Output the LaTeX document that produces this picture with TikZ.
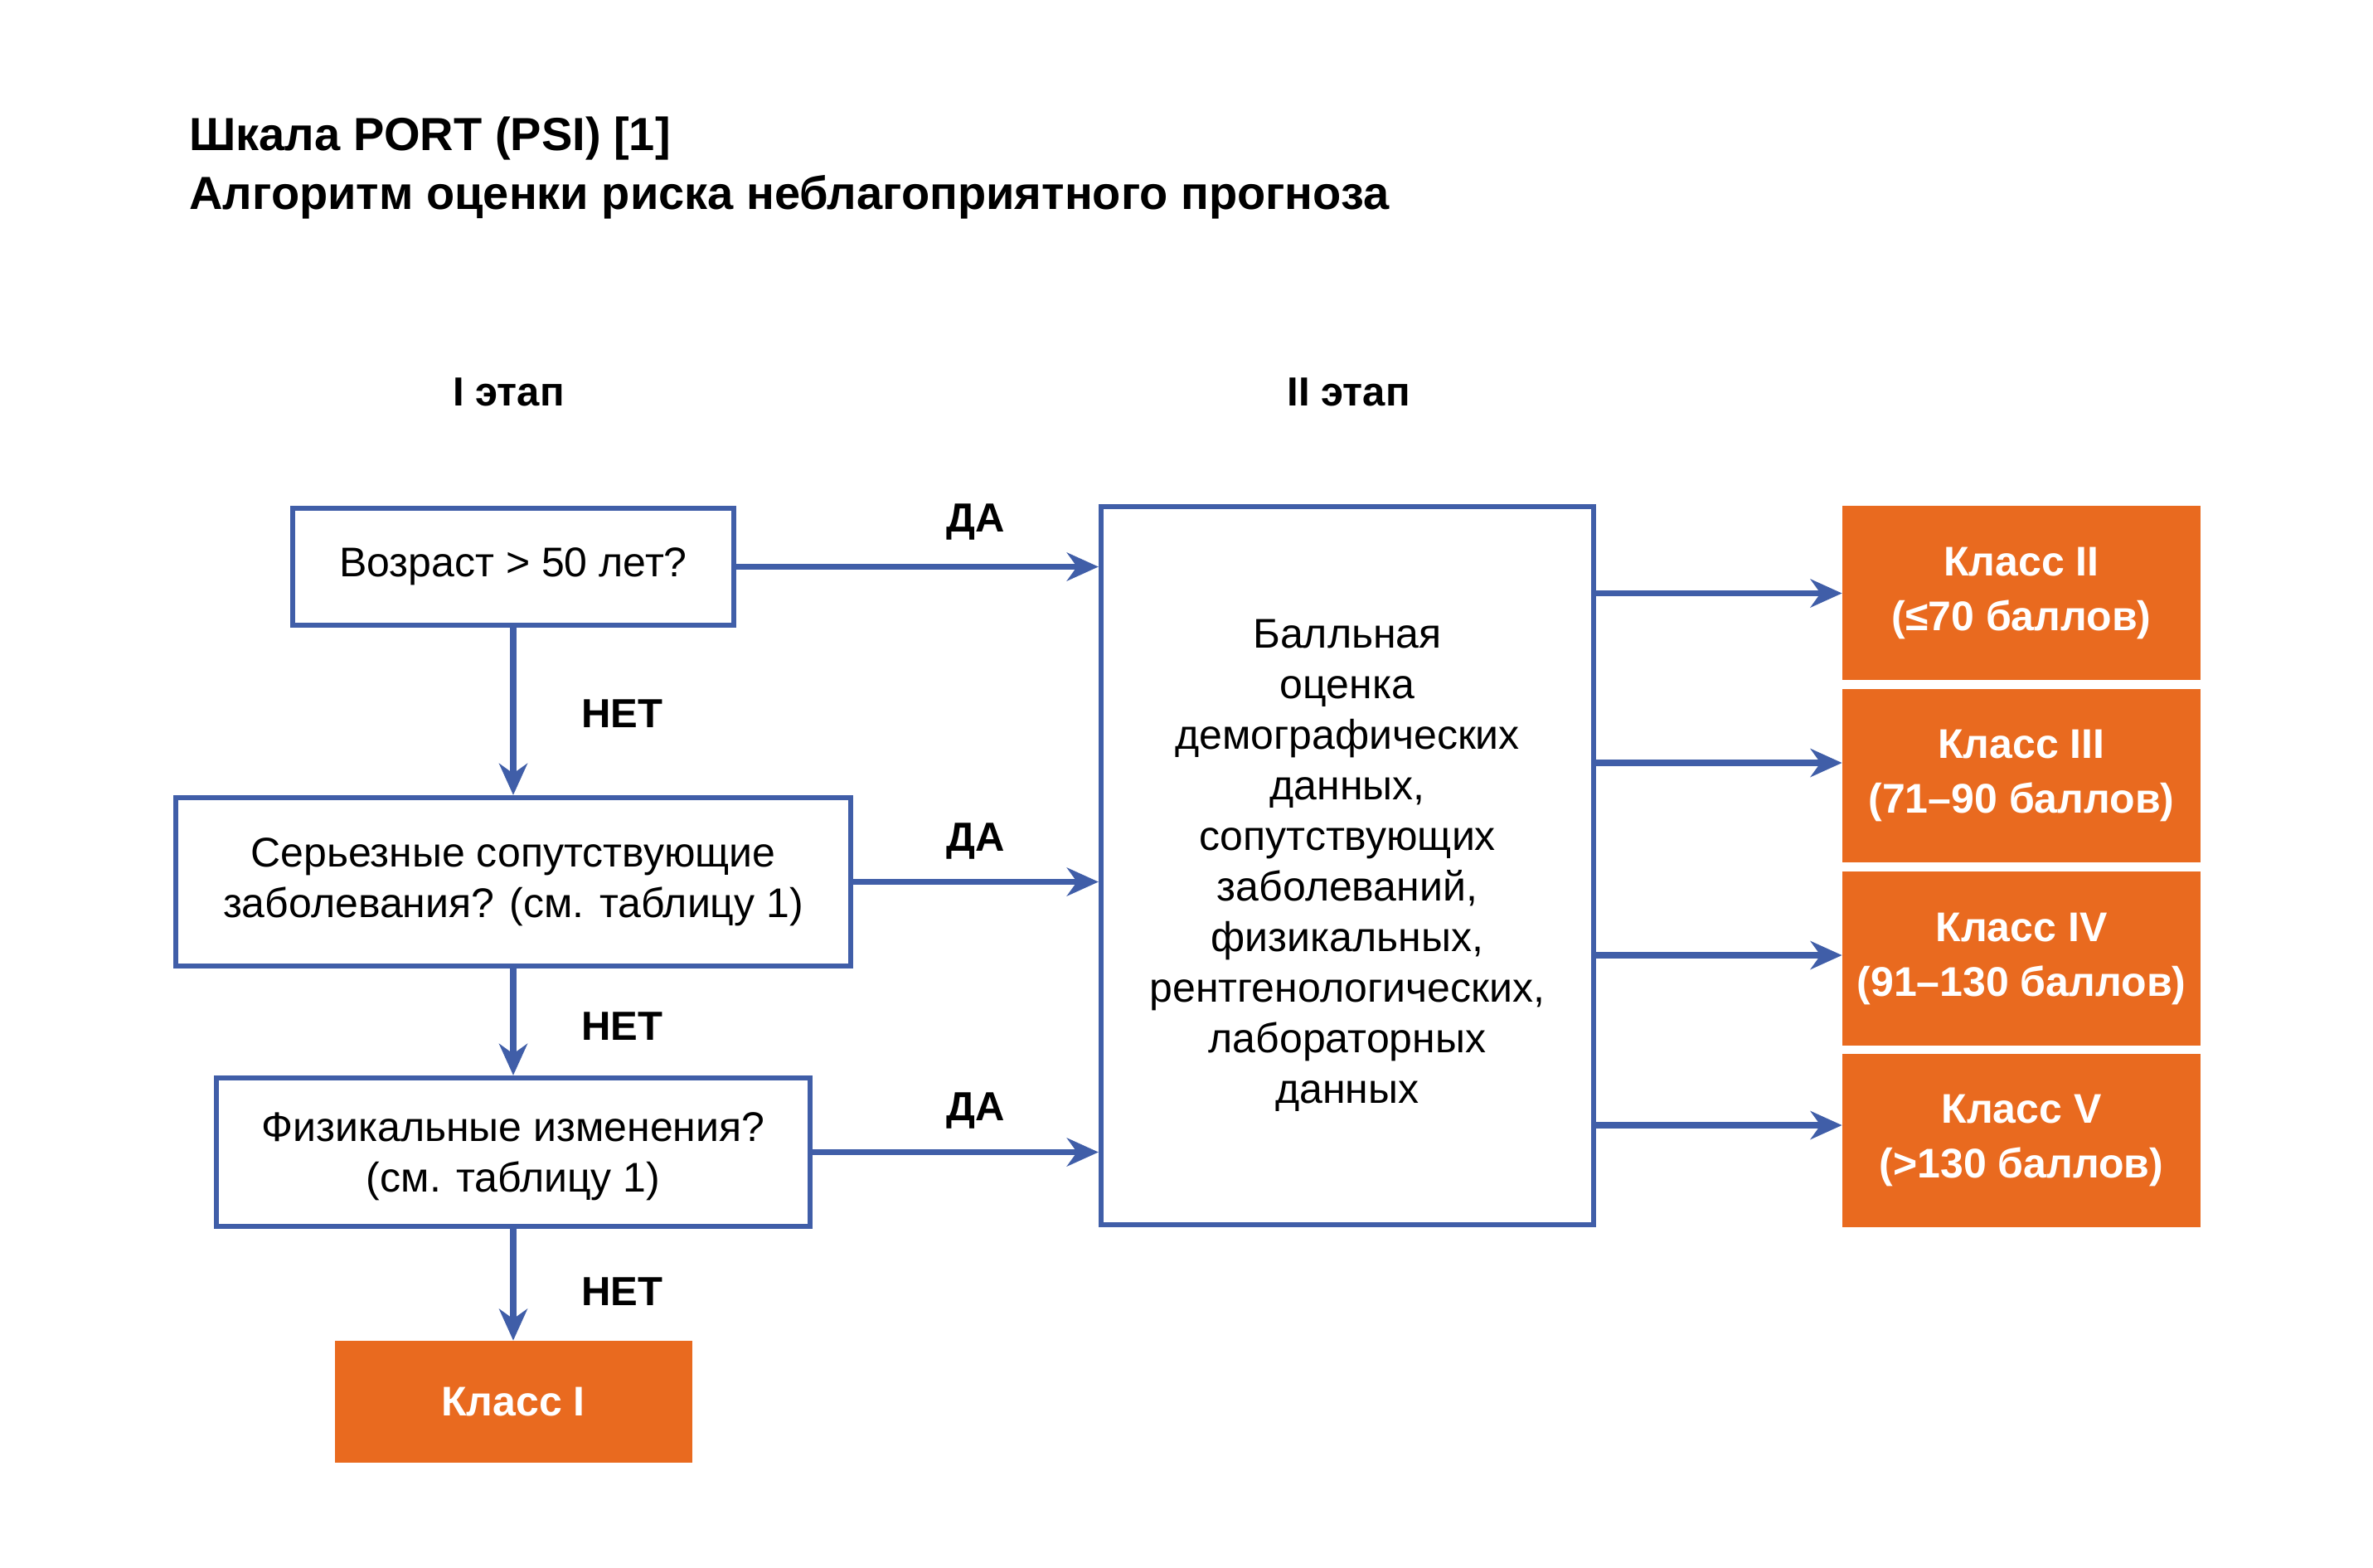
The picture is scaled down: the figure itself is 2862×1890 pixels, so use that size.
\documentclass[tikz,border=0pt]{standalone}
\usepackage{fontspec}
\setmainfont{Liberation Sans}
\usetikzlibrary{arrows.meta,calc}
\definecolor{bl}{RGB}{64,94,168}
\definecolor{orng}{RGB}{233,106,31}
\begin{document}
\begin{tikzpicture}[x=0.5pt,y=-0.5pt,
  qbox/.style={draw=bl, line width=2.9pt, fill=white, inner sep=0pt, align=center,
    font=\fontsize{25}{30.5}\selectfont},
  clsbox/.style={fill=orng, text=white, inner sep=0pt, align=center,
    font=\bfseries\fontsize{25}{33}\selectfont},
  lbl/.style={font=\bfseries\fontsize{24.5}{30}\selectfont, inner sep=0pt, anchor=base},
  ttl/.style={font=\bfseries\fontsize{28}{34}\selectfont, inner sep=0pt, anchor=base west},
  arr/.style={draw=bl, line width=3.6pt, -{Stealth[length=19pt,width=17pt,inset=6pt]}}]
\useasboundingbox (0,0) rectangle (2862,1890);

% title
\node[ttl] (t1) at (228,181) {Шкала PORT (PSI) [1]};
\node[ttl] (t2) at (228,252) {Алгоритм оценки риска неблагоприятного прогноза};

% stage labels
\node[lbl] (s1) at (613.5,489) {I этап};
\node[lbl] (s2) at (1626.5,489) {II этап};

% stage I boxes
\node[qbox, minimum width=266pt, minimum height=70.75pt] (q1) at (619,683.5) {Возраст > 50 лет?};
\node[qbox, minimum width=407pt, minimum height=101.75pt] (q2) at (619,1063.5)
  {Серьезные сопутствующие\\заболевания? (см. таблицу 1)};
\node[qbox, minimum width=357.75pt, minimum height=89.75pt, text depth=0pt] (q3) at (619,1389.5)
  {Физикальные изменения?\\(см. таблицу 1)};
\node[clsbox, minimum width=215.5pt, minimum height=73.5pt] (c1) at (619,1690.5) {Класс I};

% stage II box
\node[qbox, minimum width=297.25pt, minimum height=433.25pt] (big) at (1625,1044)
  {Балльная\\оценка\\демографических\\данных,\\сопутствующих\\заболеваний,\\физикальных,\\рентгенологических,\\лабораторных\\данных};

% class boxes
\node[clsbox, minimum width=216pt, minimum height=105pt] (c2) at (2438,715) {Класс II\\(≤70 баллов)};
\node[clsbox, minimum width=216pt, minimum height=104.5pt] (c3) at (2438,935.5) {Класс III\\(71–90 баллов)};
\node[clsbox, minimum width=216pt, minimum height=105pt] (c4) at (2438,1156) {Класс IV\\(91–130 баллов)};
\node[clsbox, minimum width=216pt, minimum height=104.5pt] (c5) at (2438,1375.5) {Класс V\\(>130 баллов)};

% vertical arrows (НЕТ)
\draw[arr] (q1.south) -- (q2.north);
\draw[arr] (q2.south) -- (q3.north);
\draw[arr] (q3.south) -- (c1.north);
\node[lbl] (n1) at (750,877) {НЕТ};
\node[lbl] (n2) at (750,1254) {НЕТ};
\node[lbl] (n3) at (750,1574) {НЕТ};

% horizontal arrows (ДА)
\draw[arr] (q1.east) -- (q1.east -| big.west);
\draw[arr] (q2.east) -- (q2.east -| big.west);
\draw[arr] (q3.east) -- (q3.east -| big.west);
\node[lbl] (d1) at (1177,641) {ДА};
\node[lbl] (d2) at (1177,1026) {ДА};
\node[lbl] (d3) at (1177,1351) {ДА};

% arrows to classes
\coordinate (e2) at ($(c2.west)+(0,0.5)$);
\coordinate (e3) at ($(c3.west)+(0,-15.5)$);
\coordinate (e4) at ($(c4.west)+(0,-4)$);
\coordinate (e5) at ($(c5.west)+(0,-18.5)$);
\draw[arr] (big.east |- e2) -- (e2);
\draw[arr] (big.east |- e3) -- (e3);
\draw[arr] (big.east |- e4) -- (e4);
\draw[arr] (big.east |- e5) -- (e5);
\end{tikzpicture}
\end{document}
